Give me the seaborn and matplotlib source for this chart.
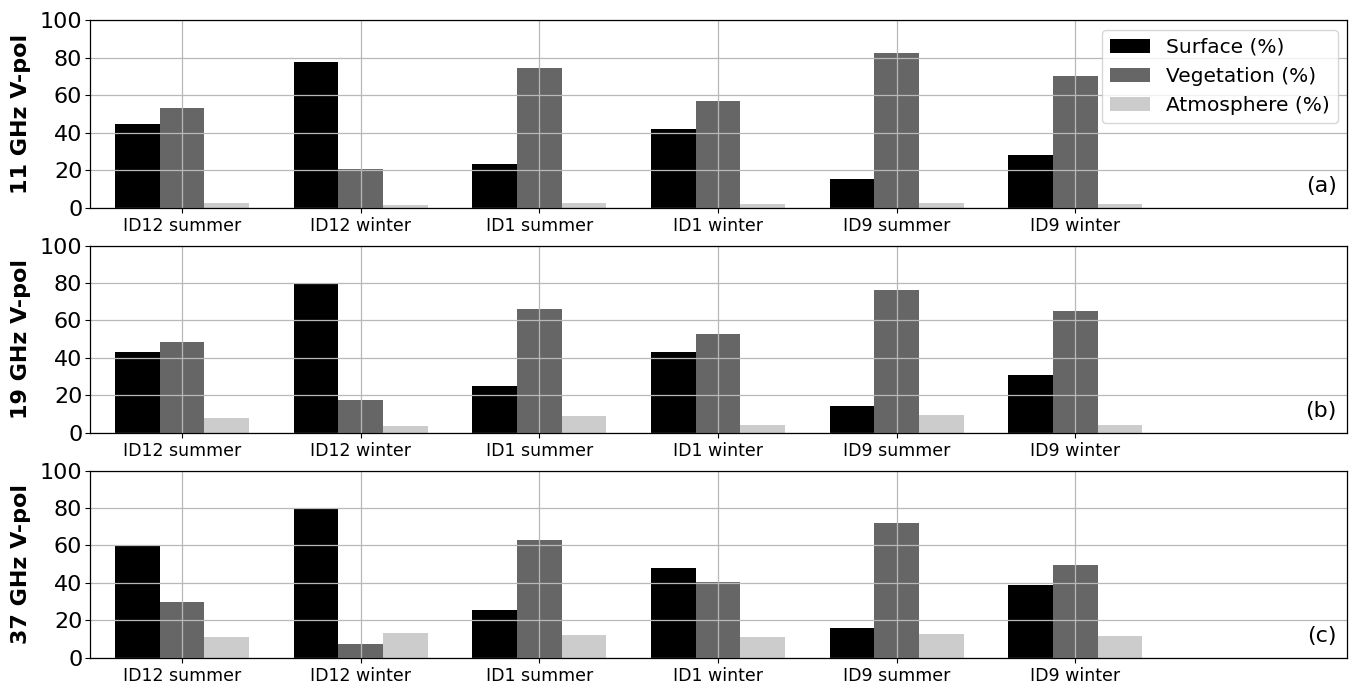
import numpy as np
import pandas as pd
import matplotlib
matplotlib.use("Agg")
import matplotlib.pyplot as plt
import seaborn as sns

categories = ["ID12 summer", "ID12 winter", "ID1 summer", "ID1 winter", "ID9 summer", "ID9 winter"]
components = ["Surface (%)", "Vegetation (%)", "Atmosphere (%)"]
panel_titles = ["11 GHz V-pol", "19 GHz V-pol", "37 GHz V-pol"]
panel_tags = ["(a)", "(b)", "(c)"]

surface_11 = [44.8, 77.9, 23.2, 41.8, 15.5, 28.2]
vegetation_11 = [53.2, 20.4, 74.8, 57.0, 82.5, 70.2]
atmosphere_11 = [2.3, 1.6, 2.3, 1.8, 2.3, 1.8]

surface_19 = [43.0, 79.5, 25.0, 43.3, 14.3, 30.8]
vegetation_19 = [48.7, 17.6, 66.1, 52.6, 76.5, 65.2]
atmosphere_19 = [8.0, 3.4, 8.7, 3.9, 9.3, 3.9]

surface_37 = [59.6, 79.7, 25.4, 47.9, 15.7, 38.8]
vegetation_37 = [29.7, 7.1, 63.0, 40.7, 71.9, 49.6]
atmosphere_37 = [11.2, 13.0, 12.1, 11.2, 12.6, 11.6]

panels = [
    (surface_11, vegetation_11, atmosphere_11),
    (surface_19, vegetation_19, atmosphere_19),
    (surface_37, vegetation_37, atmosphere_37),
]

palette = ["#000000", "#666666", "#cccccc"]

sns.set_theme(style="ticks")
plt.rcParams["font.family"] = ["DejaVu Sans"]
plt.rcParams["text.color"] = "black"
plt.rcParams["axes.labelcolor"] = "black"
plt.rcParams["xtick.color"] = "black"
plt.rcParams["ytick.color"] = "black"

fig, axes = plt.subplots(3, 1, figsize=(13.57, 6.92), dpi=100)
fig.subplots_adjust(left=0.0663, right=0.9926, top=0.9704, bottom=0.0496, hspace=0.203)

for i, (ax, vals) in enumerate(zip(axes, panels)):
    rows = []
    for comp, series in zip(components, vals):
        for cat, v in zip(categories, series):
            rows.append({"site": cat, "component": comp, "value": v})
    df = pd.DataFrame(rows)
    sns.barplot(data=df, x="site", y="value", hue="component", order=categories,
                hue_order=components, palette=palette, width=0.75, saturation=1,
                errorbar=None, ax=ax, legend=(i == 0), edgecolor="none", linewidth=0)
    ax.set_xlim(-0.515, 6.52)
    ax.set_ylim(0, 100)
    ax.set_yticks([0, 20, 40, 60, 80, 100])
    ax.set_axisbelow(False)
    ax.grid(True, color="#b8b8b8", linewidth=0.9)
    ax.set_xlabel("")
    ax.set_ylabel(panel_titles[i], fontsize=16, fontweight="bold", labelpad=6)
    ax.tick_params(axis="y", labelsize=16, length=3.5, width=0.8, pad=2)
    ax.tick_params(axis="x", labelsize=12.5, length=3.5, width=0.8, pad=3)
    for sp in ax.spines.values():
        sp.set_visible(True)
        sp.set_color("black")
        sp.set_linewidth(0.9)
        sp.set_zorder(4)
    ax.text(0.992, 0.06, panel_tags[i], transform=ax.transAxes, ha="right", va="bottom", fontsize=16)
    if i == 0:
        leg = ax.legend(loc="upper right", fontsize=14.5, frameon=True, fancybox=True,
                        framealpha=0.8, edgecolor="#cccccc", handlelength=2.0,
                        borderaxespad=0.45)
        leg.set_title(None)
        leg.set_zorder(5)

fig.align_ylabels(axes)
fig.savefig("out.png", dpi=100)
